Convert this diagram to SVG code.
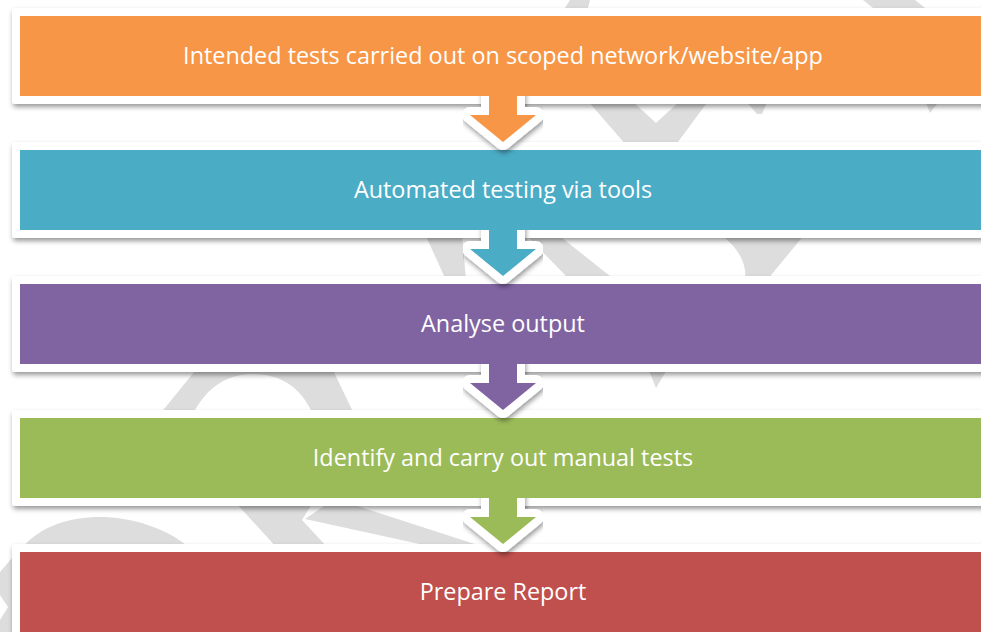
<svg xmlns="http://www.w3.org/2000/svg" width="981" height="632" viewBox="0 0 981 632">
  <defs>
    <style>
      .frame { fill: #FFFFFF; filter: url(#shadow); }
      .label { fill: #FFFFFF; font-family: "Open Sans", "Liberation Sans", sans-serif; font-size: 23.4px; text-anchor: middle; }
      .mark { fill: #DDDDDD; }
      .outline { fill: #FFFFFF; stroke: #FFFFFF; stroke-width: 16; stroke-linejoin: round; filter: url(#shadow); }
    </style>
    <filter id="shadow" x="-10%" y="-30%" width="120%" height="170%">
      <feDropShadow dx="1" dy="3" stdDeviation="2.5" flood-color="#000000" flood-opacity="0.4"/>
    </filter>
    <clipPath id="below1"><rect x="0" y="96" width="981" height="70"/></clipPath>
    <clipPath id="below2"><rect x="0" y="230" width="981" height="70"/></clipPath>
    <clipPath id="below3"><rect x="0" y="364" width="981" height="70"/></clipPath>
    <clipPath id="below4"><rect x="0" y="498" width="981" height="70"/></clipPath>
  </defs>

  <rect width="981" height="632" fill="#FFFFFF"/>

  <!-- pale watermark strokes showing between the bands -->
  <g id="watermark">
    <polygon class="mark" points="570,0 590,0 588,8 565,8"/>
    <polygon class="mark" points="863,0 915,0 925,8 873,8"/>
    <polygon class="mark" points="587,100 631,100 656,123 681,100 709,100 675,146 627,146"/>
    <polygon class="mark" points="745,100 768,100 762,114 757,114"/>
    <polygon class="mark" points="925,100 940,100 930,113"/>
    <polygon class="mark" points="425,234 462,234 466,280 446,280"/>
    <polygon class="mark" points="525,234 557,234 615,280 570,280"/>
    <path class="mark" d="M720,234 L805,234 L767,280 L745,280 Q748,255 720,234 Z"/>
    <path class="mark" d="M160,414 L199,366 L331,366 L354,414 L313,414 C300,386 280,374 252,374 C225,374 205,390 193,414 Z"/>
    <polygon class="mark" points="648,368 668,368 656,388"/>
    <path class="mark" d="M22,548 C40,526 70,517 100,517 C130,517 165,527 190,548 Z"/>
    <polygon class="mark" points="235,502 313,502 302,520 328,548 277,548"/>
    <polygon class="mark" points="305,519 330,502 345,502 487,548 438,548"/>
    <polygon class="mark" points="0,572 12,558 12,632 0,632 0,620 8,607 0,595"/>
  </g>

  <g id="step-1">
    <rect class="frame" x="12" y="8" width="1000" height="96" rx="3"/>
    <rect x="20" y="16" width="990" height="80" fill="#F79646"/>
    <text class="label" x="503" y="64">Intended tests carried out on scoped network/website/app</text>
  </g>
  <g id="step-2">
    <rect class="frame" x="12" y="142" width="1000" height="96" rx="3"/>
    <rect x="20" y="150" width="990" height="80" fill="#4BACC6"/>
    <text class="label" x="503" y="198">Automated testing via tools</text>
  </g>
  <g id="step-3">
    <rect class="frame" x="12" y="276" width="1000" height="96" rx="3"/>
    <rect x="20" y="284" width="990" height="80" fill="#8064A2"/>
    <text class="label" x="503" y="332">Analyse output</text>
  </g>
  <g id="step-4">
    <rect class="frame" x="12" y="410" width="1000" height="96" rx="3"/>
    <rect x="20" y="418" width="990" height="80" fill="#9BBB59"/>
    <text class="label" x="503" y="466">Identify and carry out manual tests</text>
  </g>
  <g id="step-5">
    <rect class="frame" x="12" y="544" width="1000" height="96" rx="3"/>
    <rect x="20" y="552" width="990" height="80" fill="#C0504D"/>
    <text class="label" x="503" y="600">Prepare Report</text>
  </g>

  <!-- down arrows growing out of each band -->
  <g id="connectors">
    <g id="arrow-1-2">
      <path class="outline" clip-path="url(#below1)" d="M489,90 V115 H470 L503,142 L536,115 H517 V90 Z"/>
      <path fill="#F79646" d="M489,92 V115 H470 L503,142 L536,115 H517 V92 Z"/>
    </g>
    <g id="arrow-2-3">
      <path class="outline" clip-path="url(#below2)" d="M489,224 V249 H470 L503,276 L536,249 H517 V224 Z"/>
      <path fill="#4BACC6" d="M489,226 V249 H470 L503,276 L536,249 H517 V226 Z"/>
    </g>
    <g id="arrow-3-4">
      <path class="outline" clip-path="url(#below3)" d="M489,358 V383 H470 L503,410 L536,383 H517 V358 Z"/>
      <path fill="#8064A2" d="M489,360 V383 H470 L503,410 L536,383 H517 V360 Z"/>
    </g>
    <g id="arrow-4-5">
      <path class="outline" clip-path="url(#below4)" d="M489,492 V517 H470 L503,544 L536,517 H517 V492 Z"/>
      <path fill="#9BBB59" d="M489,494 V517 H470 L503,544 L536,517 H517 V494 Z"/>
    </g>
  </g>
</svg>
